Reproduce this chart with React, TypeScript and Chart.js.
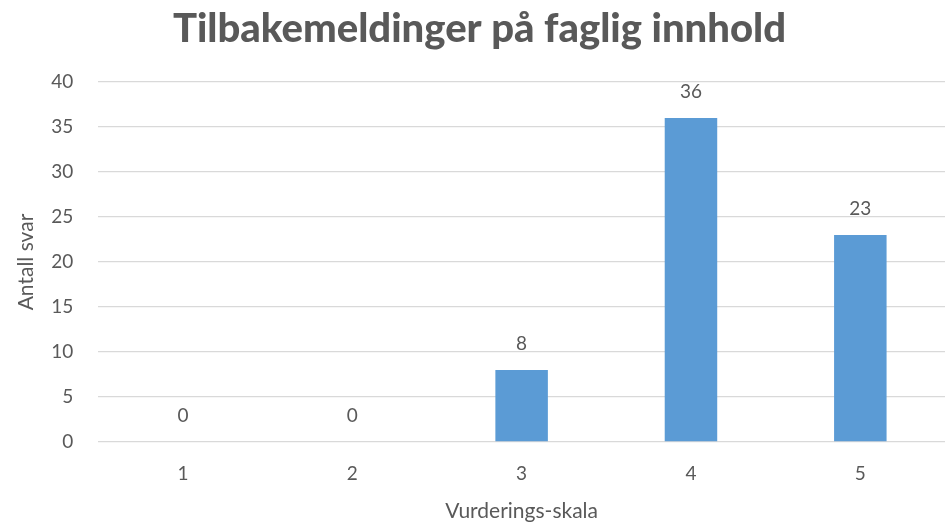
import React, { useEffect, useRef } from "react";
import { Chart, registerables } from "chart.js";

Chart.register(...registerables);

const categories = ["1", "2", "3", "4", "5"];
const values = [0, 0, 8, 36, 23];
const titleText = "Tilbakemeldinger på faglig innhold";
const yTitle = "Antall svar";
const xTitle = "Vurderings-skala";

const textColor = "#595959";
const barColor = "#5B9BD5";

const dataLabels = {
  id: "dataLabels",
  afterDatasetsDraw(chart: any) {
    const ctx = chart.ctx;
    const meta = chart.getDatasetMeta(0);
    ctx.save();
    ctx.font = "19px Lato";
    ctx.fillStyle = textColor;
    ctx.textAlign = "center";
    ctx.textBaseline = "middle";
    meta.data.forEach((bar: any, i: number) => {
      ctx.fillText(String(values[i]), bar.x, bar.y - 26);
    });
    ctx.restore();
  },
};

export default function App() {
  const ref = useRef<HTMLCanvasElement>(null);
  useEffect(() => {
    document.body.style.margin = "0";
    const chart = new Chart(ref.current!, {
      type: "bar",
      data: {
        labels: categories,
        datasets: [
          {
            data: values,
            backgroundColor: barColor,
            categoryPercentage: 1,
            barPercentage: 0.31,
          },
        ],
      },
      options: {
        animation: false,
        responsive: false,
        maintainAspectRatio: false,
        layout: { padding: { left: 14, right: 0, top: 0, bottom: 3 } },
        plugins: {
          legend: { display: false },
          tooltip: { enabled: false },
          title: {
            display: true,
            text: titleText,
            color: textColor,
            font: { family: "Lato", size: 40, weight: "900" },
            padding: { top: 5, bottom: 29 },
          },
        },
        scales: {
          x: {
            grid: { display: false },
            border: { display: false },
            ticks: {
              color: textColor,
              font: { family: "Lato", size: 19 },
              padding: 12,
            },
            title: {
              display: true,
              text: xTitle,
              color: textColor,
              font: { family: "Lato", size: 21 },
              padding: { top: 2, bottom: 0 },
            },
          },
          y: {
            min: 0,
            max: 40,
            ticks: {
              stepSize: 5,
              color: textColor,
              font: { family: "Lato", size: 19 },
              padding: 25,
            },
            grid: { color: "#d9d9d9", drawTicks: false, lineWidth: 1.3 },
            border: { display: false },
            title: {
              display: true,
              text: yTitle,
              color: textColor,
              font: { family: "Lato", size: 21 },
              padding: { top: 0, bottom: -13 },
            },
          },
        },
      },
      plugins: [dataLabels],
    });
    return () => chart.destroy();
  }, []);
  return (
    <div style={{ position: "absolute", left: 0, top: 0, width: 945, height: 527 }}>
      <canvas ref={ref} width={945} height={527} style={{ display: "block" }} />
    </div>
  );
}
